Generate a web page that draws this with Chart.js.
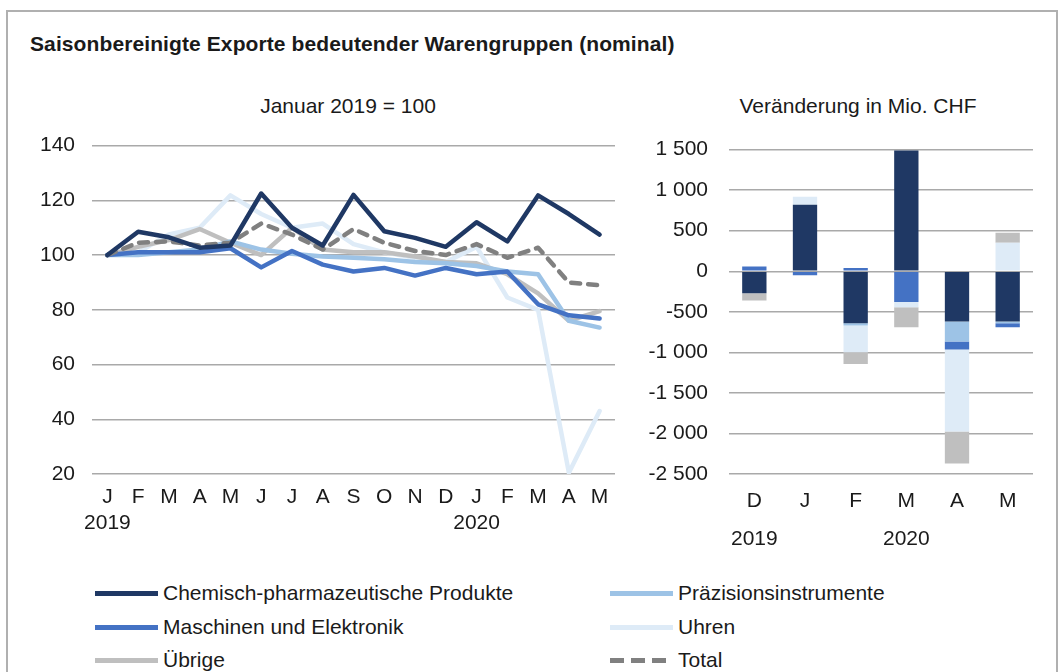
<!DOCTYPE html>
<html><head><meta charset="utf-8">
<script src="https://cdn.jsdelivr.net/npm/chart.js@4/dist/chart.umd.min.js"></script>
<style>
html,body{margin:0;padding:0;background:#fff;}
body{width:1062px;height:672px;position:relative;overflow:hidden;font-family:"Liberation Sans",Arial,sans-serif;color:#1a1a1a;}
#frame{position:absolute;left:6px;top:10px;width:1052px;height:700px;border:2px solid #b0b0b0;box-sizing:border-box;}
#title{position:absolute;left:30px;top:32px;font-weight:bold;font-size:21px;white-space:nowrap;letter-spacing:0.1px;}
.sub{position:absolute;top:94px;font-size:21px;white-space:nowrap;transform:translateX(-50%);}
canvas{position:absolute;}
.leg{position:absolute;height:26px;display:flex;align-items:center;font-size:21px;white-space:nowrap;}
.leg .s{width:63px;height:5px;margin-right:5px;}
</style></head><body>
<div id="frame"></div>
<div id="title">Saisonbereinigte Exporte bedeutender Warengruppen (nominal)</div>
<div class="sub" style="left:348px">Januar 2019 = 100</div>
<div class="sub" style="left:858px">Veränderung in Mio. CHF</div>
<div style="position:absolute;left:20px;top:116px;width:610px;height:434px"><canvas id="c1"></canvas></div>
<div style="position:absolute;left:640px;top:116px;width:410px;height:446px"><canvas id="c2"></canvas></div>
<div id="legend"></div>
<script>
// ---- Left chart data (Index, Januar 2019 = 100) ----
const monthLabels = [['J','2019'],'F','M','A','M','J','J','A','S','O','N','D',['J','2020'],'F','M','A','M'];
const chemIdx   = [100,108.5,106.5,102.7,103.5,122.5,110,103.5,122,108.7,106.3,103,112,105,121.8,115,107.5];
const praezIdx  = [100,100,101,102,105,102,100.5,99.5,99,98.5,97.5,97,96,94,93,76,73.5];
const maschIdx  = [100,101,101,101,102.5,95.5,101.5,96.5,94,95.3,92.5,95.3,93,94,82,78,76.8];
const uhrenIdx  = [100,101,107.5,110,121.8,115,110,111.5,104,101,99,97.5,103,84.5,80,20.5,43];
const uebrigIdx = [100,103,105.5,109.5,104.5,100,110,102,101,101,99.5,97.5,97,93,86,76,79.5];
const totalIdx  = [100,104.5,105,103.5,104.5,111.5,107.5,102,109.5,104.5,101.5,100,104,99,102.7,90,89];
const leftTicks = [20,40,60,80,100,120,140];

// ---- Right chart data (Veränderung in Mio. CHF) ----
const barLabels = [['D','','2019'],'J','F',['M','','2020'],'A','M'];
const chemChg   = [-270,820,-640,1490,-620,-620];
const praezChg  = [0,0,-30,0,-245,-20];
const maschChg  = [60,-50,40,-380,-100,-50];
const uhrenChg  = [0,100,-330,-65,-1010,350];
const uebrigChg = [-90,0,-145,-245,-395,125];
const rightTicks = [-2500,-2000,-1500,-1000,-500,0,500,1000,1500];

const seriesNames = ['Chemisch-pharmazeutische Produkte','Präzisionsinstrumente','Maschinen und Elektronik','Uhren','Übrige','Total'];
const colors = {chem:'#1f3864',praez:'#9dc3e6',masch:'#4472c4',uhren:'#deebf7',uebrig:'#bfbfbf',total:'#808080'};

const FONT = "'Liberation Sans', Arial, sans-serif";
const gridColor = '#a9a9a9';

function lineDs(label,data,color,order,extra){
  return Object.assign({label,data,borderColor:color,backgroundColor:color,borderWidth:4.5,pointRadius:0,tension:0,fill:false,order,borderJoinStyle:'round',borderCapStyle:'round'},extra||{});
}

new Chart(document.getElementById('c1'),{
  type:'line',
  data:{labels:monthLabels,datasets:[
    lineDs(seriesNames[0],chemIdx,colors.chem,0),
    lineDs(seriesNames[1],praezIdx,colors.praez,3),
    lineDs(seriesNames[2],maschIdx,colors.masch,2),
    lineDs(seriesNames[3],uhrenIdx,colors.uhren,5),
    lineDs(seriesNames[4],uebrigIdx,colors.uebrig,4),
    lineDs(seriesNames[5],totalIdx,colors.total,1,{borderDash:[9,8]})
  ]},
  options:{
    responsive:true,maintainAspectRatio:false,animation:false,
    layout:{padding:{top:3,right:15,left:0,bottom:0}},
    plugins:{legend:{display:false},tooltip:{enabled:false}},
    scales:{
      x:{offset:true,grid:{display:false,drawTicks:false},border:{display:false},
         ticks:{color:'#1a1a1a',font:{family:FONT,size:21,lineHeight:1.2},padding:11,maxRotation:0,autoSkip:false},
         afterFit:s=>{s.height=76;}},
      y:{min:20,max:140,afterBuildTicks:s=>{s.ticks=leftTicks.map(v=>({value:v}));},
         grid:{color:gridColor,lineWidth:1.5,drawTicks:false},border:{display:false},
         ticks:{color:'#1a1a1a',font:{family:FONT,size:21},padding:17},
         afterFit:s=>{s.width=72;}}
    }
  }
});

function barDs(label,data,color){return {label,data,backgroundColor:color,borderWidth:0,stack:'s',barPercentage:0.96,categoryPercentage:0.5};}
function fmt(v){const s=Math.abs(v).toString().replace(/\B(?=(\d{3})+(?!\d))/g,' ');return (v<0?'-':'')+s;}

new Chart(document.getElementById('c2'),{
  type:'bar',
  data:{labels:barLabels,datasets:[
    barDs(seriesNames[0],chemChg,colors.chem),
    barDs(seriesNames[1],praezChg,colors.praez),
    barDs(seriesNames[2],maschChg,colors.masch),
    barDs(seriesNames[3],uhrenChg,colors.uhren),
    barDs(seriesNames[4],uebrigChg,colors.uebrig)
  ]},
  options:{
    responsive:true,maintainAspectRatio:false,animation:false,
    layout:{padding:{top:7,right:17,left:0,bottom:0}},
    plugins:{legend:{display:false},tooltip:{enabled:false}},
    scales:{
      x:{stacked:true,grid:{display:false,drawTicks:false},border:{display:false},
         ticks:{color:'#1a1a1a',font:{family:FONT,size:21,lineHeight:0.9},padding:18,maxRotation:0,autoSkip:false},
         afterFit:s=>{s.height=88;}},
      y:{stacked:true,min:-2500,max:1500,afterBuildTicks:s=>{s.ticks=rightTicks.map(v=>({value:v}));},
         grid:{color:gridColor,lineWidth:1.5,drawTicks:false},border:{display:false},
         ticks:{color:'#1a1a1a',font:{family:FONT,size:21},padding:21,callback:v=>fmt(v)},
         afterFit:s=>{s.width=89;}}
    }
  }
});

// HTML legend
const legItems = [
  {name:seriesNames[0],c:colors.chem,x:95,y:593},
  {name:seriesNames[1],c:colors.praez,x:610,y:593},
  {name:seriesNames[2],c:colors.masch,x:95,y:627},
  {name:seriesNames[3],c:colors.uhren,x:610,y:627},
  {name:seriesNames[4],c:colors.uebrig,x:95,y:660},
  {name:seriesNames[5],c:colors.total,x:610,y:660,dash:true}
];
const legEl=document.getElementById('legend');
legItems.forEach(it=>{
  const d=document.createElement('div');d.className='leg';
  d.style.left=it.x+'px';d.style.top=(it.y-13)+'px';
  const s=document.createElement('div');s.className='s';
  s.style.background=it.dash?`repeating-linear-gradient(90deg, ${it.c} 0 14px, transparent 14px 21px)`:it.c;
  const t=document.createElement('span');t.textContent=it.name;
  d.appendChild(s);d.appendChild(t);legEl.appendChild(d);
});
</script>
</body></html>
